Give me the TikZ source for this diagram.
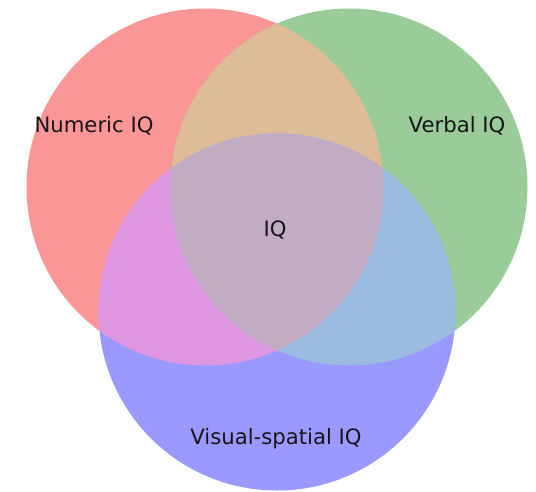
\documentclass[tikz,border=0pt]{standalone}
\usepackage{fontspec}
\setmainfont{DejaVu Sans}
\definecolor{onlyR}{RGB}{250,150,150}
\definecolor{onlyG}{RGB}{153,204,153}
\definecolor{onlyB}{RGB}{153,153,255}
\definecolor{capRG}{RGB}{222,188,152}
\definecolor{capRB}{RGB}{222,150,224}
\definecolor{capGB}{RGB}{155,186,224}
\definecolor{capRGB}{RGB}{194,172,196}
\definecolor{labeltext}{RGB}{25,20,25}
\tikzset{
  setlabel/.style={font=\fontsize{21.2}{25}\selectfont, text=labeltext, inner sep=0pt},
}
% the three sets
\def\setR{(205,187) circle [radius=178.5pt]}
\def\setG{(349,187) circle [radius=178.5pt]}
\def\setB{(277,312) circle [radius=178.5pt]}
\begin{document}
\begin{tikzpicture}[x=1pt,y=-1pt]
  \useasboundingbox (0,0) rectangle (536,491);
  \fill[white] (0,0) rectangle (536,491);
  % single sets
  \fill[onlyR] \setR;
  \fill[onlyG] \setG;
  \fill[onlyB] \setB;
  % pairwise overlaps
  \begin{scope}
    \clip \setR;
    \fill[capRG] \setG;
    \fill[capRB] \setB;
  \end{scope}
  \begin{scope}
    \clip \setG;
    \fill[capGB] \setB;
  \end{scope}
  % triple overlap
  \begin{scope}
    \clip \setR;
    \clip \setG;
    \fill[capRGB] \setB;
  \end{scope}
  % labels
  \node[setlabel] (numeric) at (94,126) {Numeric IQ};
  \node[setlabel] (verbal) at (457,126) {Verbal IQ};
  \node[setlabel] (iq) at (275,230) {IQ};
  \node[setlabel] (visual) at (276,439) {Visual-spatial IQ};
\end{tikzpicture}
\end{document}
